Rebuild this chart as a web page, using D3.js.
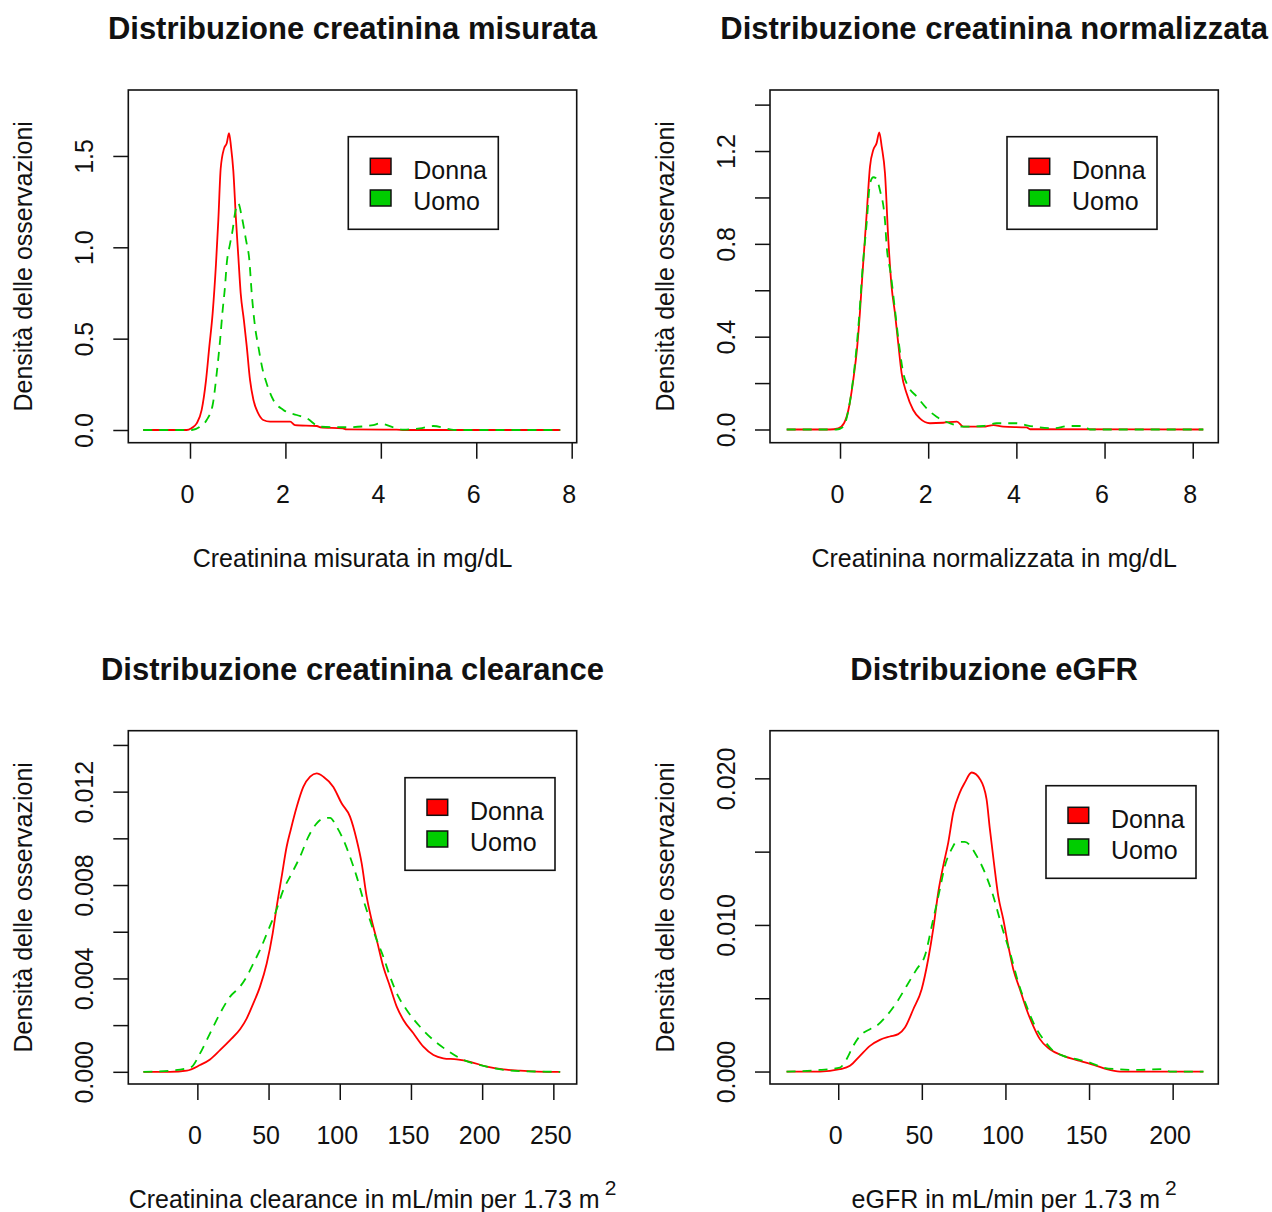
<!DOCTYPE html>
<html>
<head>
<meta charset="utf-8">
<script src="https://cdn.jsdelivr.net/npm/d3@7"></script>
<style>
  html, body { margin: 0; padding: 0; background: #fff; }
  svg { display: block; }
  text { font-family: "Liberation Sans", Arial, sans-serif; fill: #111; }
</style>
</head>
<body>
<div id="chart"></div>
<script>
// ---------------- DATA ----------------
const titles = [
  "Distribuzione creatinina misurata",
  "Distribuzione creatinina normalizzata",
  "Distribuzione creatinina clearance",
  "Distribuzione eGFR"
];
const xLabels = [
  "Creatinina misurata in mg/dL",
  "Creatinina normalizzata in mg/dL",
  "Creatinina clearance in mL/min per 1.73 m",
  "eGFR in mL/min per 1.73 m"
];
const xLabelSup = ["", "", "2", "2"];
const yLabel = "Densità delle osservazioni";
const seriesNames = ["Donna", "Uomo"];

const xTicks1 = [0, 2, 4, 6, 8];
const xTicks2 = [0, 2, 4, 6, 8];
const xTicks3 = [0, 50, 100, 150, 200, 250];
const xTicks4 = [0, 50, 100, 150, 200];
const yTicks1 = [0, 0.5, 1.0, 1.5];
const yTicks2 = [0, 0.2, 0.4, 0.6, 0.8, 1.0, 1.2, 1.4];
const yTicks3 = [0, 0.002, 0.004, 0.006, 0.008, 0.010, 0.012, 0.014];
const yTicks4 = [0, 0.005, 0.010, 0.015, 0.020];
const yTickLabels1 = ["0.0", "0.5", "1.0", "1.5"];
const yTickLabels2 = ["0.0", "", "0.4", "", "0.8", "", "1.2", ""];
const yTickLabels3 = ["0.000", "", "0.004", "", "0.008", "", "0.012", ""];
const yTickLabels4 = ["0.000", "", "0.010", "", "0.020"];

// Density curves [x, density]
const misurataDonna = [[-0.98,0],[-0.07,0],[0.03,0.01],[0.14,0.036],[0.245,0.11],[0.335,0.27],[0.405,0.456],[0.475,0.64],[0.545,0.91],[0.594,1.15],[0.643,1.43],[0.713,1.54],[0.77,1.57],[0.818,1.625],[0.86,1.55],[0.908,1.42],[0.964,1.15],[1.013,0.95],[1.062,0.75],[1.13,0.60],[1.19,0.456],[1.258,0.274],[1.33,0.164],[1.43,0.091],[1.535,0.055],[1.68,0.046],[2.1,0.046],[2.2,0.027],[2.66,0.022],[2.73,0.015],[3.2,0.009],[3.28,0.003],[4.33,0.002],[4.5,0],[7.76,0]];
const misurataUomo = [[-0.98,0],[0.04,0],[0.21,0.018],[0.35,0.055],[0.475,0.137],[0.56,0.31],[0.63,0.49],[0.685,0.657],[0.734,0.785],[0.77,0.91],[0.84,1.02],[0.894,1.095],[0.943,1.186],[1.013,1.24],[1.083,1.17],[1.174,1.04],[1.244,0.93],[1.293,0.75],[1.363,0.566],[1.433,0.456],[1.523,0.33],[1.607,0.255],[1.747,0.164],[1.957,0.11],[2.236,0.082],[2.446,0.064],[2.725,0.018],[3.28,0.015],[3.84,0.027],[3.98,0.036],[4.26,0.015],[4.47,0.002],[4.82,0.009],[5.1,0.022],[5.45,0.004],[5.55,0],[7.76,0]];

const normalizzataDonna = [[-1.21,0],[-0.23,0],[-0.04,0.005],[0.09,0.027],[0.19,0.084],[0.30,0.213],[0.39,0.357],[0.45,0.50],[0.51,0.673],[0.605,0.93],[0.68,1.133],[0.756,1.205],[0.83,1.234],[0.89,1.28],[0.945,1.22],[1.02,1.104],[1.096,0.817],[1.17,0.616],[1.247,0.50],[1.32,0.372],[1.398,0.242],[1.51,0.156],[1.66,0.084],[1.81,0.048],[2.04,0.027],[2.34,0.029],[2.65,0.034],[2.8,0.012],[3.25,0.012],[3.48,0.019],[3.7,0.012],[4.23,0.009],[4.31,0.001],[8.24,0]];
const normalizzataUomo = [[-1.21,0],[-0.08,0],[0.076,0.012],[0.19,0.084],[0.265,0.17],[0.363,0.33],[0.44,0.50],[0.514,0.70],[0.605,0.89],[0.68,1.06],[0.756,1.087],[0.816,1.083],[0.907,1.03],[1.02,0.90],[1.058,0.79],[1.149,0.673],[1.247,0.515],[1.345,0.357],[1.436,0.242],[1.55,0.185],[1.74,0.142],[1.965,0.091],[2.19,0.055],[2.49,0.027],[2.8,0.012],[3.25,0.015],[3.55,0.027],[4.0,0.027],[4.31,0.015],[4.84,0.005],[5.2,0.015],[5.52,0.015],[5.67,0],[8.24,0]];

const clearanceDonna = [[-37.9,0],[-19.1,0],[-7.4,0.00005],[1.9,0.00029],[8.9,0.00053],[15.9,0.00093],[23.0,0.00136],[30.0,0.00182],[34.7,0.00229],[39.3,0.00293],[44.0,0.00365],[48.7,0.00464],[52.9,0.00593],[55.7,0.00707],[59.2,0.00836],[62.7,0.00964],[65.5,0.01035],[69.8,0.01135],[74.4,0.0122],[79.2,0.01264],[83.8,0.01278],[88.5,0.01264],[95.5,0.0122],[101.3,0.0115],[107.2,0.01093],[111.9,0.00993],[115.4,0.00893],[118.9,0.0075],[122.4,0.0065],[126.0,0.00564],[130.6,0.0045],[135.3,0.00365],[140.0,0.00279],[144.7,0.00222],[151.7,0.00165],[158.7,0.00108],[165.8,0.00072],[172.7,0.00058],[182.1,0.00053],[191.5,0.00043],[203.2,0.00022],[214.9,0.0001],[226.6,0.00005],[238.3,0.00001],[254.8,0]];
const clearanceUomo = [[-37.9,0],[-19.1,0.00005],[-7.4,0.00015],[-3.9,0.00022],[1.9,0.00079],[8.9,0.00165],[15.9,0.0025],[23.0,0.00322],[30.0,0.00365],[34.7,0.00408],[39.3,0.00464],[44.0,0.00522],[49.8,0.00607],[54.6,0.00678],[60.4,0.00779],[66.3,0.0085],[72.1,0.00921],[78.0,0.01007],[83.8,0.01064],[88.5,0.01085],[93.2,0.01088],[97.8,0.0105],[102.6,0.00993],[107.2,0.00921],[111.9,0.00836],[116.6,0.00736],[121.2,0.0065],[126.0,0.00564],[130.6,0.00493],[135.3,0.00408],[141.2,0.00322],[147.0,0.00265],[156.4,0.00193],[165.8,0.00136],[175.1,0.00093],[184.5,0.00058],[193.9,0.00036],[203.2,0.00022],[214.9,0.00008],[226.6,0.00003],[254.8,0]];

const egfrDonna = [[-30.9,0],[-11,0],[1,0.00016],[7,0.00039],[13,0.00107],[19,0.00175],[24.9,0.00216],[30.9,0.00239],[35.9,0.00255],[39.9,0.003],[44.9,0.00425],[49.9,0.00562],[53.8,0.00766],[56.8,0.00971],[59.8,0.01221],[62.8,0.01403],[65.8,0.01562],[68.8,0.01767],[72.7,0.01903],[75.7,0.01971],[79.8,0.0204],[84.8,0.01994],[88.7,0.01858],[90.7,0.01653],[93.1,0.01426],[95.7,0.01198],[98.7,0.01039],[101.7,0.00857],[104.7,0.00698],[108.7,0.0056],[112.6,0.00425],[116.6,0.00312],[120.6,0.00221],[126.6,0.00152],[134.6,0.00107],[144.6,0.00073],[154.5,0.00039],[160.5,0.00016],[168.5,0],[218.4,0]];
const egfrUomo = [[-30.9,0],[-11,0.00011],[1,0.00027],[5,0.00084],[9,0.00175],[13,0.00243],[19,0.00289],[22.9,0.00312],[28.9,0.0038],[34.9,0.00471],[40.9,0.00584],[46.9,0.00698],[51.8,0.00789],[56.8,0.01039],[60.8,0.01244],[63.8,0.01403],[67.8,0.01517],[70.8,0.01567],[75.7,0.01567],[82.8,0.01471],[87.7,0.01357],[92.7,0.01198],[97.7,0.00994],[102.7,0.00812],[107.7,0.00607],[112.6,0.00448],[117.6,0.00312],[122.6,0.00221],[128.6,0.00141],[134.6,0.00107],[142.6,0.00084],[150.5,0.00061],[158.5,0.00027],[166.5,0.00016],[178.4,0.00011],[194.4,0.00016],[198.4,0],[218.4,0]];

// ---------------- LAYOUT ----------------
const W = 1272, H = 1212;
const cols = [[128.3, 576.7], [770, 1218.3]];
const rows = [[90, 442.7], [730.7, 1084]];
const panels = [
  { col: 0, row: 0, xDom: [-1.293, 8.105], yDom: [-0.0695, 1.861], xTicks: xTicks1, yTicks: yTicks1, yLab: yTickLabels1, d: misurataDonna, u: misurataUomo, leg: [348.3, 136.7] },
  { col: 1, row: 0, xDom: [-1.588, 8.58], yDom: [-0.0569, 1.463], xTicks: xTicks2, yTicks: yTicks2, yLab: yTickLabels2, d: normalizzataDonna, u: normalizzataUomo, leg: [1007, 136.7] },
  { col: 0, row: 1, xDom: [-48.5, 266.4], yDom: [-0.000522, 0.01461], xTicks: xTicks3, yTicks: yTicks3, yLab: yTickLabels3, d: clearanceDonna, u: clearanceUomo, leg: [405, 777.7] },
  { col: 1, row: 1, xDom: [-40.8, 227.3], yDom: [-0.00085, 0.02325], xTicks: xTicks4, yTicks: yTicks4, yLab: yTickLabels4, d: egfrDonna, u: egfrUomo, leg: [1046, 785.7] }
];
const colors = ["#FF0000", "#00CD00"];

const svg = d3.select("#chart").append("svg")
  .attr("width", W).attr("height", H)
  .attr("viewBox", `0 0 ${W} ${H}`);
svg.append("rect").attr("width", W).attr("height", H).attr("fill", "#fff");

panels.forEach((p, i) => {
  const [x0, x1] = cols[p.col];
  const [y0, y1] = rows[p.row];
  const x = d3.scaleLinear().domain(p.xDom).range([x0, x1]);
  const y = d3.scaleLinear().domain(p.yDom).range([y1, y0]);
  const g = svg.append("g");

  // title
  g.append("text")
    .attr("x", (x0 + x1) / 2).attr("y", y0 - 51)
    .attr("text-anchor", "middle")
    .style("font-size", "31px").style("font-weight", "bold")
    .text(titles[i]);

  // x axis
  const xa = g.append("g").attr("transform", `translate(0,${y1})`)
    .call(d3.axisBottom(x).tickValues(p.xTicks).tickSize(16).tickSizeOuter(0).tickFormat(d3.format("d")));
  xa.select(".domain").remove();
  xa.selectAll(".tick line").attr("stroke", "#111").attr("stroke-width", 1.5);
  xa.selectAll(".tick text")
    .attr("y", 60).attr("dy", 0).attr("dx", -3)
    .style("font-size", "25px").style("font-family", "'Liberation Sans', Arial, sans-serif")
    .attr("fill", "#111");

  // y axis
  const ya = g.append("g").attr("transform", `translate(${x0},0)`)
    .call(d3.axisLeft(y).tickValues(p.yTicks).tickSize(15).tickSizeOuter(0)
      .tickFormat((d, k) => p.yLab[k]));
  ya.select(".domain").remove();
  ya.selectAll(".tick line").attr("stroke", "#111").attr("stroke-width", 1.5);
  ya.selectAll(".tick text")
    .attr("x", 0).attr("y", -35).attr("dy", 0)
    .attr("transform", "rotate(-90)")
    .attr("text-anchor", "middle")
    .style("font-size", "25px").style("font-family", "'Liberation Sans', Arial, sans-serif")
    .attr("fill", "#111");

  // x label
  const hasSup = !!xLabelSup[i];
  const xl = g.append("text")
    .attr("x", (x0 + x1) / 2 + (hasSup ? 20 : 0)).attr("y", y1 + 124)
    .attr("text-anchor", "middle")
    .style("font-size", "25px");
  xl.append("tspan").text(xLabels[i]);
  if (hasSup) {
    xl.append("tspan").attr("dx", 5).attr("dy", -13).style("font-size", "21px").text(xLabelSup[i]);
  }

  // y label
  g.append("text")
    .attr("transform", `translate(${x0 - 96},${(y0 + y1) / 2}) rotate(-90)`)
    .attr("text-anchor", "middle")
    .style("font-size", "25px")
    .text(yLabel);

  // curves
  const line = d3.line().x(d => x(d[0])).y(d => y(d[1])).curve(d3.curveMonotoneX);
  g.append("path").datum(p.d)
    .attr("d", line).attr("fill", "none")
    .attr("stroke", colors[0]).attr("stroke-width", 1.8);
  g.append("path").datum(p.u)
    .attr("d", line).attr("fill", "none")
    .attr("stroke", colors[1]).attr("stroke-width", 1.8)
    .attr("stroke-dasharray", "9,7");

  // box
  g.append("rect")
    .attr("x", x0).attr("y", y0).attr("width", x1 - x0).attr("height", y1 - y0)
    .attr("fill", "none").attr("stroke", "#111").attr("stroke-width", 1.6);

  // legend
  const [lx, ly] = p.leg;
  const lg = g.append("g").attr("transform", `translate(${lx},${ly})`);
  lg.append("rect").attr("width", 150).attr("height", 92.6)
    .attr("fill", "#fff").attr("stroke", "#111").attr("stroke-width", 1.6);
  seriesNames.forEach((name, k) => {
    lg.append("rect")
      .attr("x", 22).attr("y", 21.6 + k * 31.7).attr("width", 20.7).attr("height", 16)
      .attr("fill", colors[k]).attr("stroke", "#111").attr("stroke-width", 1.5);
    lg.append("text")
      .attr("x", 65).attr("y", 42 + k * 31.7)
      .style("font-size", "25px")
      .text(name);
  });
});
</script>
</body>
</html>
